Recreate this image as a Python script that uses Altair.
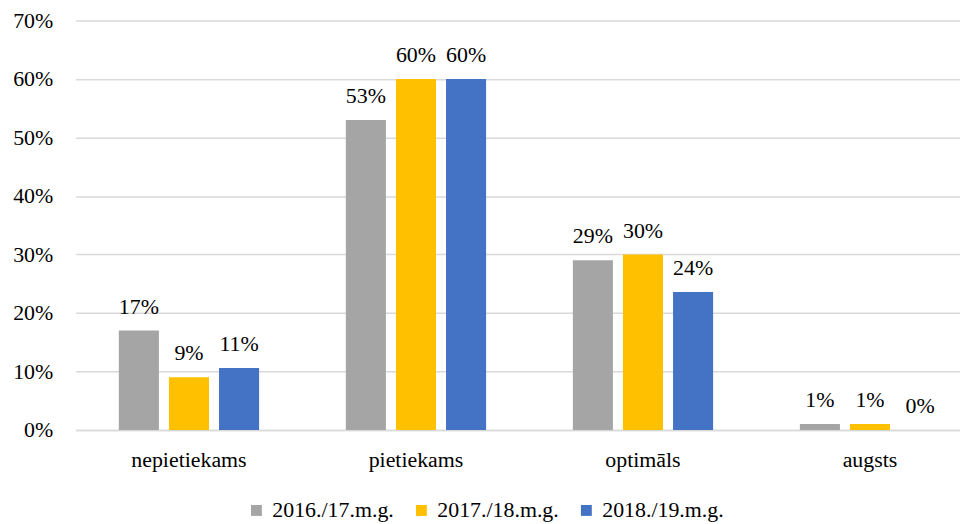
import altair as alt
import pandas as pd

categories = ["nepietiekams", "pietiekams", "optimāls", "augsts"]
series = ["2016./17.m.g.", "2017./18.m.g.", "2018./19.m.g."]
v2016 = [17.0, 53.0, 29.0, 1.0]
v2017 = [9.0, 60.0, 30.0, 1.0]
v2018 = [10.6, 60.0, 23.6, 0.0]
colors = ["#A5A5A5", "#FFC000", "#4472C4"]

rows = []
for s, vals in zip(series, [v2016, v2017, v2018]):
    for c, v in zip(categories, vals):
        rows.append({"cat": c, "series": s, "value": v / 100.0,
                     "label": f"{round(v):.0f}%"})
df = pd.DataFrame(rows)

FONT = "Liberation Serif"

base = alt.Chart(df).encode(
    x=alt.X("cat:N", sort=categories, title=None,
            scale=alt.Scale(paddingInner=0.338, paddingOuter=0.117, align=0.72),
            axis=alt.Axis(labelAngle=0, labelFontSize=22, labelFont=FONT,
                          labelColor="#000000", labelPadding=20, ticks=False,
                          domainColor="#D9D9D9", domainWidth=1.5)),
    xOffset=alt.XOffset("series:N", sort=series,
                        scale=alt.Scale(paddingInner=0.2, paddingOuter=0.1)),
)

bars = base.mark_bar().encode(
    y=alt.Y("value:Q", title=None,
            scale=alt.Scale(domain=[0, 0.7], nice=False),
            axis=alt.Axis(format=".0%", values=[0, 0.1, 0.2, 0.3, 0.4, 0.5, 0.6, 0.7],
                          labelFontSize=22, labelFont=FONT, labelColor="#000000",
                          labelPadding=23, ticks=False, domain=False,
                          gridColor="#D9D9D9", gridWidth=1.5)),
    color=alt.Color("series:N", sort=series,
                    scale=alt.Scale(domain=series, range=colors),
                    legend=alt.Legend(title=None, orient="none", direction="horizontal",
                                      legendX=171, legendY=482,
                                      labelFontSize=22, labelFont=FONT, labelColor="#000000",
                                      symbolType="square", symbolSize=120,
                                      symbolStrokeWidth=0, columnPadding=16,
                                      labelOffset=5)),
)

labels = base.mark_text(baseline="alphabetic", dy=-17, fontSize=22, font=FONT,
                        color="#000000").encode(
    y=alt.Y("value:Q"),
    text="label:N",
)

chart = alt.layer(bars, labels).properties(
    width=890, height=412,
    padding={"left": 4, "top": 0, "right": 0, "bottom": 0},
).configure(font=FONT).configure_view(stroke=None)

chart.save("out.html", embed_options={"renderer": "svg", "actions": False})
